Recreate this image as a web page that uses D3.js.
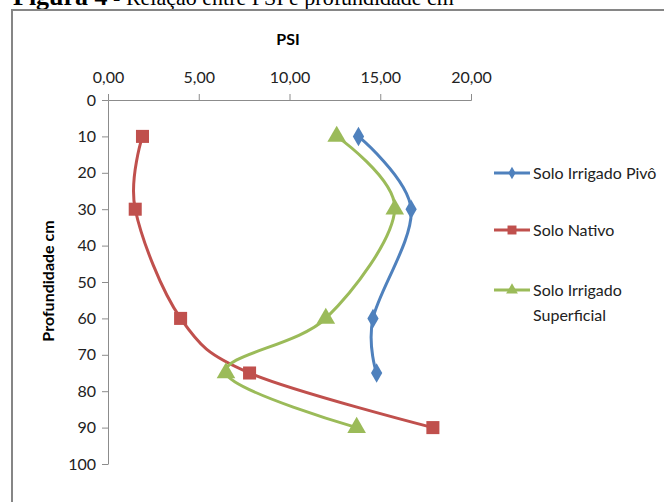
<!DOCTYPE html>
<html>
<head>
<meta charset="utf-8">
<script src="https://cdn.jsdelivr.net/npm/d3@7"></script>
<style>
  body { margin: 0; background: #fff; }
  svg { display: block; }
  .tick text { font-family: Lato, "Open Sans", sans-serif; font-size: 16px; fill: #222; }
  .label { font-family: Lato, "Open Sans", sans-serif; }
</style>
</head>
<body>
<svg id="chart" width="664" height="502"></svg>
<script>
var width = 664, height = 502;

var depth = [10, 30, 60, 75, 90];
var pivo = [13.8, 16.7, 14.6, 14.8];
var nativo = [1.9, 1.5, 4.0, 7.8, 17.9];
var superficial = [12.6, 15.8, 12.0, 6.5, 13.7];
var psiTicks = [0, 5, 10, 15, 20];
var depthTicks = [0, 10, 20, 30, 40, 50, 60, 70, 80, 90, 100];

var seriesNames = ["Solo Irrigado Pivô", "Solo Nativo", "Solo Irrigado Superficial"];
var colors = ["#4F81BD", "#C0504D", "#9BBB59"];

var series = [
        { name: seriesNames[0], values: pivo, color: colors[0], sym: d3.symbolDiamond },
        { name: seriesNames[1], values: nativo, color: colors[1], sym: d3.symbolSquare },
        { name: seriesNames[2], values: superficial, color: colors[2], sym: d3.symbolTriangle }
];

var fmt = function (d) { return d3.format(".2f")(d).replace(".", ","); };

var xScale = d3.scaleLinear().domain([0, 20]).range([108, 471]);
var yScale = d3.scaleLinear().domain([0, 100]).range([100, 464]);

var svg = d3.select("#chart");

// heading of the figure, mostly cut off at the top
var head = svg.append("text")
        .attr("x", 13)
        .attr("y", 5)
        .style("font-family", "Liberation Serif, serif")
        .style("font-size", "22px");
head.append("tspan").style("font-weight", "bold").style("font-size", "26px").text("Figura 4");
head.append("tspan").text(" - Relação entre PSI e profundidade cm");

// chart frame
svg.append("rect")
        .attr("x", 12)
        .attr("y", 10)
        .attr("width", 700)
        .attr("height", 600)
        .attr("fill", "none")
        .attr("stroke", "#868686")
        .attr("stroke-width", 2);

var x_axis = d3.axisTop(xScale).tickValues(psiTicks).tickFormat(fmt).tickSize(6).tickSizeOuter(6);
var y_axis = d3.axisLeft(yScale).tickValues(depthTicks).tickSize(6).tickSizeOuter(0);

var gx = svg.append("g")
        .attr("transform", "translate(0,100)")
        .call(x_axis);
gx.select(".domain").attr("stroke", "#8c8c8c");
gx.selectAll(".tick line").attr("stroke", "#8c8c8c");
gx.selectAll(".tick text").attr("y", -17);

var gy = svg.append("g")
        .attr("transform", "translate(108,0)")
        .call(y_axis);
gy.select(".domain").attr("stroke", "#8c8c8c");
gy.selectAll(".tick line").attr("stroke", "#8c8c8c");
gy.selectAll(".tick text").attr("x", -12);

svg.append("text")
        .attr("class", "label")
        .attr("x", 288)
        .attr("y", 45)
        .attr("text-anchor", "middle")
        .style("font-weight", "bold")
        .style("font-size", "16px")
        .text("PSI");

svg.append("text")
        .attr("class", "label")
        .attr("transform", "translate(54,281) rotate(-90)")
        .attr("text-anchor", "middle")
        .style("font-weight", "bold")
        .style("font-size", "16px")
        .text("Profundidade cm");

var line = d3.line()
        .x(function (d) { return xScale(d[0]); })
        .y(function (d) { return yScale(d[1]); })
        .curve(d3.curveCardinal.tension(0));

series.forEach(function (s, k) {
        var pts = s.values.map(function (v, i) { return [v, depth[i]]; });
        svg.append("path")
                .datum(pts)
                .attr("fill", "none")
                .attr("stroke", s.color)
                .attr("stroke-width", 3)
                .attr("d", line);

        svg.selectAll(".pt" + k)
                .data(pts)
                .enter().append("path")
                .attr("class", "pt" + k)
                .attr("fill", s.color)
                .attr("d", d3.symbol().type(s.sym).size(k == 0 ? 110 : (k == 1 ? 170 : 150)))
                .attr("transform", function (d) {
                        return "translate(" + xScale(d[0]) + "," + yScale(d[1]) + ")";
                });
});

// legend
var legendY = [173, 230, 290];
var legend = svg.selectAll(".legend")
        .data(series)
        .enter().append("g")
        .attr("class", "legend")
        .attr("transform", function (d, i) { return "translate(494," + legendY[i] + ")"; });

legend.append("line")
        .attr("x1", 0)
        .attr("x2", 36)
        .attr("stroke", function (d) { return d.color; })
        .attr("stroke-width", 3);

legend.append("path")
        .attr("fill", function (d) { return d.color; })
        .attr("d", function (d, i) { return d3.symbol().type(d.sym).size(i == 0 ? 45 : (i == 1 ? 80 : 60))(); })
        .attr("transform", "translate(18,0)");

legend.append("text")
        .attr("class", "label")
        .attr("x", 39)
        .attr("y", 6)
        .style("font-size", "16px")
        .style("fill", "#222")
        .each(function (d) {
                var t = d3.select(this);
                if (d.name == "Solo Irrigado Superficial") {
                        t.append("tspan").attr("x", 39).text("Solo Irrigado");
                        t.append("tspan").attr("x", 39).attr("dy", 25).text("Superficial");
                } else {
                        t.text(d.name);
                }
        });
</script>
</body>
</html>
